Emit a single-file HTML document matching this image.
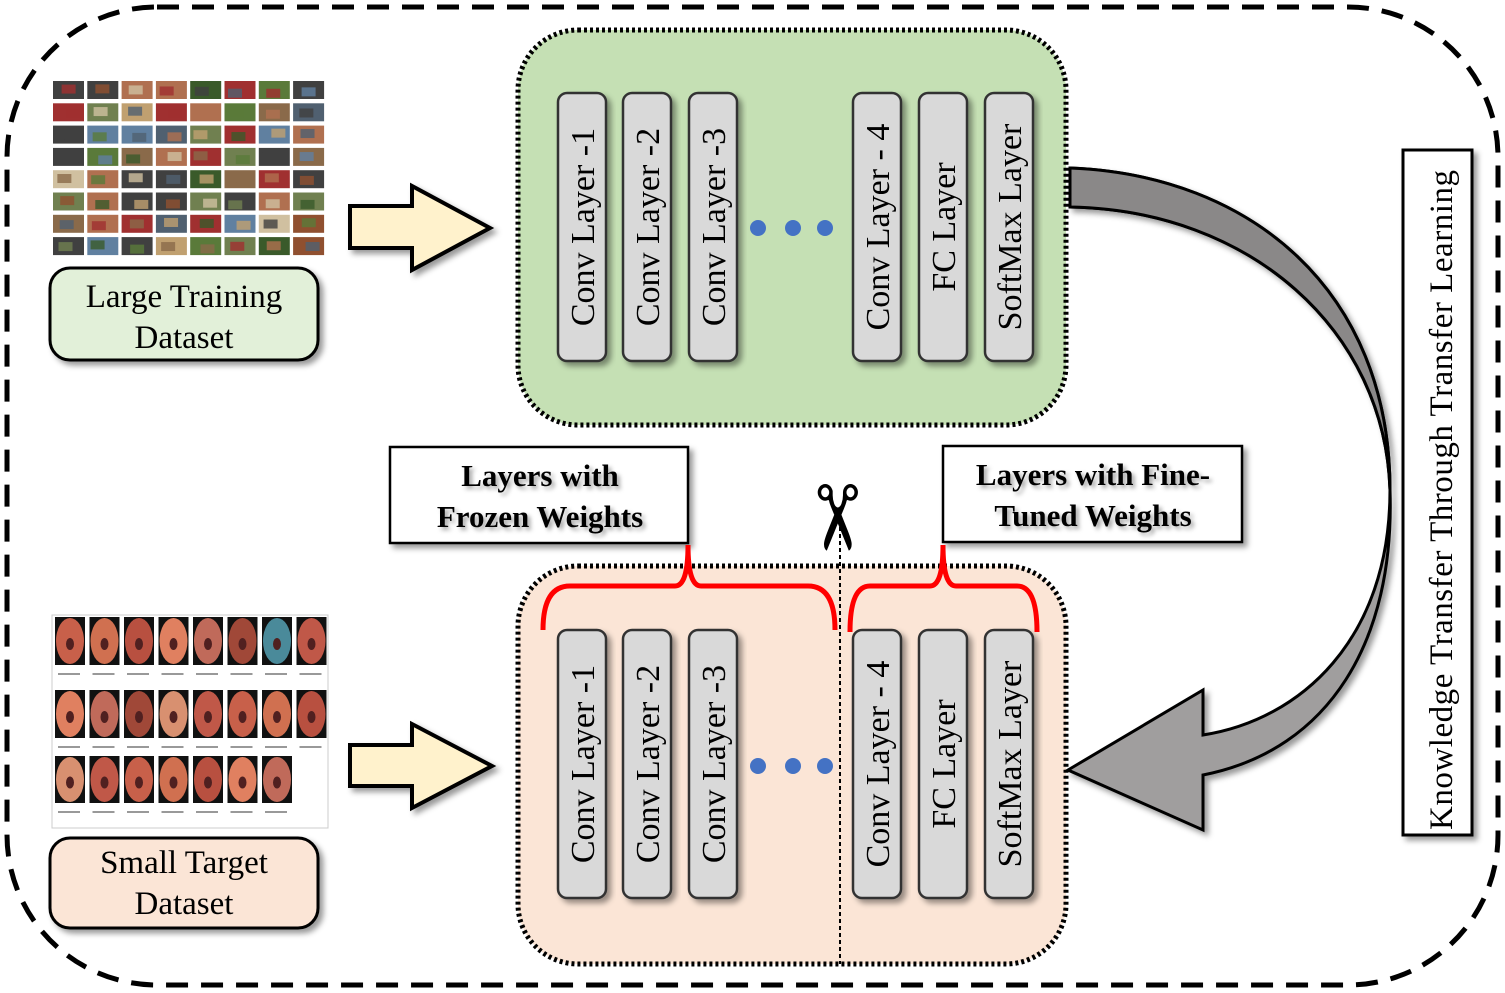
<!DOCTYPE html>
<html><head><meta charset="utf-8"><style>
html,body{margin:0;padding:0;background:#fff;}
svg{display:block;}
text{font-family:"Liberation Serif",serif;}
</style></head><body>
<svg id="s" width="1505" height="993" viewBox="0 0 1505 993" xmlns="http://www.w3.org/2000/svg">
<defs>
<filter id="sh" x="-10%" y="-10%" width="130%" height="130%"><feDropShadow dx="4" dy="4" stdDeviation="3" flood-color="#000" flood-opacity="0.4"/></filter>
<filter id="ts" x="-5%" y="-20%" width="115%" height="150%"><feDropShadow dx="3" dy="3" stdDeviation="2" flood-color="#000" flood-opacity="0.35"/></filter>
</defs>
<rect x="7" y="7" width="1491" height="978" rx="150" fill="none" stroke="#000" stroke-width="5" stroke-dasharray="22 13"/>
<rect x="518" y="30" width="548" height="395" rx="60" fill="#c5e0b4" stroke="#000" stroke-width="5" stroke-dasharray="3 3"/>
<rect x="518" y="566" width="548" height="398" rx="60" fill="#fbe5d6" stroke="#000" stroke-width="5" stroke-dasharray="3 3"/>
<line x1="840" y1="520" x2="840" y2="964" stroke="#000" stroke-width="2" stroke-dasharray="4 3"/>
<g id="grid1"></g>
<g id="grid2"></g>
<polygon points="350,206 412,206 412,186 490,228 412,270 412,248 350,248" fill="#fff2cc" stroke="#000" stroke-width="4" filter="url(#sh)"/>
<polygon points="350,745 412,745 412,724 492,766 412,808 412,786 350,786" fill="#fff2cc" stroke="#000" stroke-width="4" filter="url(#sh)"/>
<rect x="50" y="268" width="268" height="92" rx="20" fill="#e2f0d9" stroke="#000" stroke-width="3" filter="url(#sh)"/>
<text x="184" y="307" font-size="33" text-anchor="middle">Large Training</text>
<text x="184" y="348" font-size="33" text-anchor="middle">Dataset</text>
<rect x="50" y="838" width="268" height="90" rx="20" fill="#fbe5d6" stroke="#000" stroke-width="3" filter="url(#sh)"/>
<text x="184" y="873" font-size="33" text-anchor="middle">Small  Target</text>
<text x="184" y="914" font-size="33" text-anchor="middle">Dataset</text>
<g id="layers"></g>
<g fill="#4472c4"><circle cx="758" cy="228" r="8"/><circle cx="793" cy="228" r="8"/><circle cx="825" cy="228" r="8"/>
<circle cx="758" cy="766" r="8"/><circle cx="793" cy="766" r="8"/><circle cx="825" cy="766" r="8"/></g>
<path d="M1070,168 C1250,175 1390,290 1390,490 C1390,640 1300,720 1203,735 L1203,690 L1068,770 L1203,830 L1203,775 C1330,750 1395,640 1390,490 C1385,330 1250,210 1070,207 Z" fill="#a09e9e" stroke="#000" stroke-width="3" filter="url(#sh)"/>
<path d="M1070,168 C1250,175 1390,290 1390,490 C1385,330 1250,210 1070,207 Z" fill="#8a8888" stroke="#000" stroke-width="3"/>
<rect x="1403" y="150" width="69" height="685" fill="#fff" stroke="#000" stroke-width="3" filter="url(#sh)"/>
<text transform="translate(1452,500) rotate(-90)" font-size="33" text-anchor="middle" textLength="660" lengthAdjust="spacing">Knowledge  Transfer  Through  Transfer  Learning</text>
<rect x="390" y="447" width="298" height="96" fill="#fff" stroke="#000" stroke-width="2.5" filter="url(#sh)"/>
<text x="540" y="486" font-size="31" font-weight="bold" text-anchor="middle" filter="url(#ts)">Layers with</text>
<text x="540" y="527" font-size="31" font-weight="bold" text-anchor="middle" filter="url(#ts)">Frozen Weights</text>
<rect x="943" y="446" width="299" height="96" fill="#fff" stroke="#000" stroke-width="2.5" filter="url(#sh)"/>
<text x="1093" y="485" font-size="31" font-weight="bold" text-anchor="middle" filter="url(#ts)">Layers with Fine-</text>
<text x="1093" y="526" font-size="31" font-weight="bold" text-anchor="middle" filter="url(#ts)">Tuned Weights</text>
<path d="M543,630 Q543,586 570,586 L675,586 Q688,586 688,545 Q688,586 701,586 L808,586 Q835,586 835,630" fill="none" stroke="#ff0000" stroke-width="5"/>
<path d="M850,632 Q850,586 870,586 L930,586 Q943,586 943,545 Q943,586 956,586 L1017,586 Q1037,586 1037,632" fill="none" stroke="#ff0000" stroke-width="5"/>
<text transform="translate(835,518) rotate(90)" font-size="90" text-anchor="middle" dy="30" font-family="DejaVu Sans,sans-serif">✂</text>
</svg>
<script>
var NS="http://www.w3.org/2000/svg";
function el(p,t,a){var e=document.createElementNS(NS,t);for(var k in a)e.setAttribute(k,a[k]);p.appendChild(e);return e;}
var L=document.getElementById("layers");
var xs=[558,623,689,853,919,985],names=["Conv Layer -1","Conv Layer -2","Conv Layer -3","Conv Layer - 4","FC Layer","SoftMax Layer"];
[[93,268],[630,268]].forEach(function(r){
 xs.forEach(function(x,i){
  el(L,"rect",{x:x,y:r[0],width:48,height:r[1],rx:9,fill:"#d9d9d9",stroke:"#333",'stroke-width':2.5,filter:"url(#sh)"});
  var t=el(L,"text",{transform:"translate("+(x+36)+","+(r[0]+r[1]/2)+") rotate(-90)",'font-size':34,'text-anchor':"middle"});
  t.textContent=names[i];
 });
});
var g1=document.getElementById("grid1");
var pal=["#8a6a4a","#5a7a3a","#a03030","#6080a0","#c0a070","#404040","#708050","#b07050","#3a5a2a","#d0c0a0","#905030","#506070"];
var s=7;function rnd(){s=(s*9301+49297)%233280;return s/233280;}
for(var r=0;r<8;r++)for(var c=0;c<8;c++){
 el(g1,"rect",{x:53+c*34.3,y:81+r*22.3,width:31,height:18,fill:pal[Math.floor(rnd()*pal.length)]});
 el(g1,"rect",{x:56+c*34.3+rnd()*10,y:84+r*22.3+rnd()*5,width:14,height:9,fill:pal[Math.floor(rnd()*pal.length)],opacity:0.8});
}
var g2=document.getElementById("grid2");
el(g2,"rect",{x:52,y:615,width:276,height:213,fill:"#fff",stroke:"#ccc"});
var rows=[[617,48],[690,48],[756,47]],ep=["#c8604a","#d07050","#b85040","#e08060","#c06a5a","#a04838","#d89070","#c05848"];
rows.forEach(function(rw,ri){for(var c=0;c<8;c++){
 if(ri==2&&c==7)continue;
 var x=53+c*34.5;
 el(g2,"rect",{x:x+2,y:rw[0],width:30,height:rw[1],fill:"#111"});
 el(g2,"ellipse",{cx:x+17,cy:rw[0]+rw[1]/2,rx:14,ry:rw[1]/2-1,fill:(ri==0&&c==6)?"#4a8a9a":ep[(c+ri*3)%8]});
 el(g2,"ellipse",{cx:x+17,cy:rw[0]+rw[1]/2+3,rx:4,ry:6,fill:"#502020"});
 el(g2,"rect",{x:x+5,y:rw[0]+rw[1]+8,width:22,height:2,fill:"#999"});
}});
</script>
</body></html>
